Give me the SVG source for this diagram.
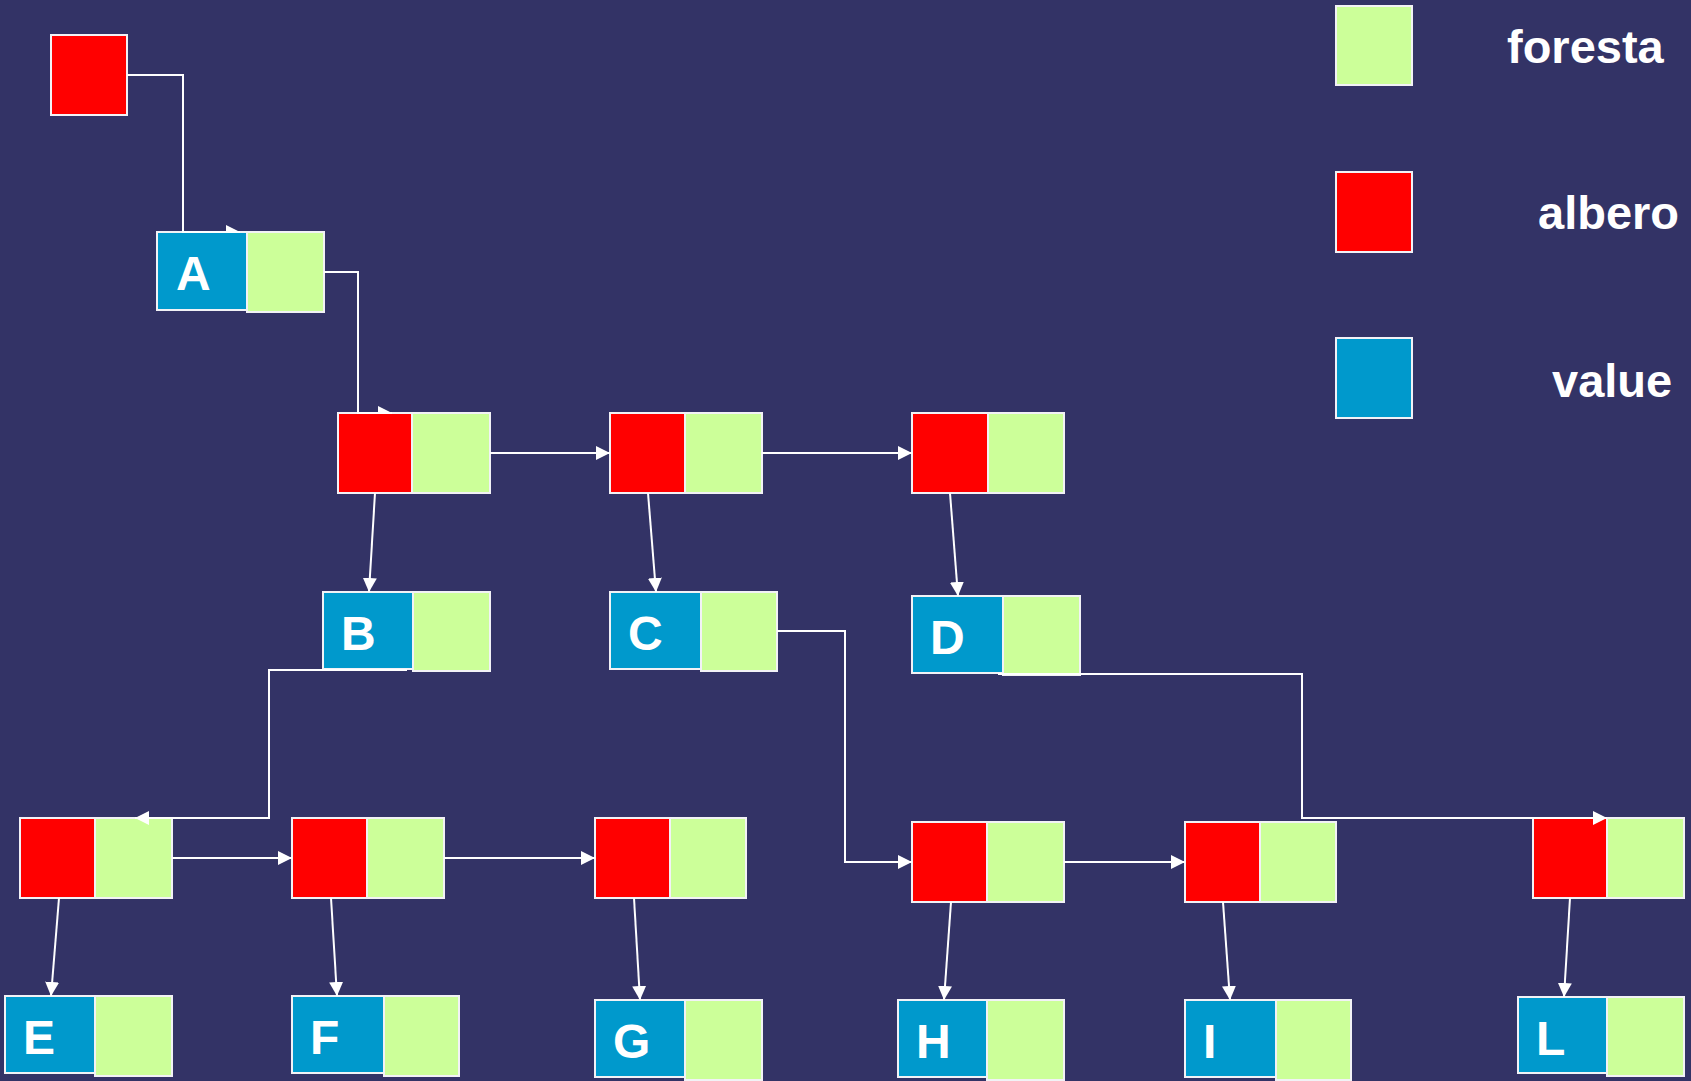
<svg xmlns="http://www.w3.org/2000/svg" width="1691" height="1081" viewBox="0 0 1691 1081">
  <style>
    .tree { fill: #FF0000; stroke: #F2F2F6; stroke-width: 2; }
    .forest { fill: #CCFF99; stroke: #F2F2F6; stroke-width: 2; }
    .value { fill: #0099CC; stroke: #F2F2F6; stroke-width: 2; }
    .lbl { font-family: "Liberation Sans", Arial, sans-serif; font-weight: bold; font-size: 48px; fill: #FFFFFF; }
    .legend { font-family: "Liberation Sans", Arial, sans-serif; font-weight: bold; font-size: 47px; fill: #FFFFFF; }
    .link { fill: none; stroke: #FFFFFF; stroke-width: 2; marker-end: url(#arrow); }
    .link-half { fill: none; stroke: #FFFFFF; stroke-width: 2; marker-end: url(#arrow-half); }
  </style>
  <defs>
    <marker id="arrow" viewBox="0 0 14 14" refX="14" refY="7" markerWidth="14" markerHeight="14" markerUnits="userSpaceOnUse" orient="auto">
      <path d="M0,0 L14,7 L0,14 z" fill="#FFFFFF"/>
    </marker>
    <!-- arrowhead whose lower half sits under the target box -->
    <marker id="arrow-half" viewBox="0 0 14 14" refX="14" refY="7" markerWidth="14" markerHeight="14" markerUnits="userSpaceOnUse" orient="auto">
      <path d="M0,0 L14,7 L0,7 z" fill="#FFFFFF"/>
    </marker>
  </defs>

  <rect x="0" y="0" width="1691" height="1081" fill="#333366"/>

  <!-- legend -->
  <g id="legend">
    <rect class="forest" x="1336" y="6" width="76" height="79"/>
    <text class="legend" x="1507" y="63">foresta</text>
    <rect class="tree" x="1336" y="172" width="76" height="80"/>
    <text class="legend" x="1538" y="229">albero</text>
    <rect class="value" x="1336" y="338" width="76" height="80"/>
    <text class="legend" x="1552" y="397">value</text>
  </g>

  <!-- nodes -->
  <g id="root"><rect class="tree" x="51" y="35" width="76" height="80"/></g>

  <g id="nA">
    <rect class="value" x="157" y="232" width="90" height="78"/>
    <rect class="forest" x="247" y="232" width="77" height="80"/>
    <text class="lbl" x="176" y="290">A</text>
  </g>

  <g id="t1"><rect class="tree" x="338" y="413" width="74" height="80"/><rect class="forest" x="412" y="413" width="78" height="80"/></g>
  <g id="t2"><rect class="tree" x="610" y="413" width="75" height="80"/><rect class="forest" x="685" y="413" width="77" height="80"/></g>
  <g id="t3"><rect class="tree" x="912" y="413" width="76" height="80"/><rect class="forest" x="988" y="413" width="76" height="80"/></g>

  <g id="nB">
    <rect class="value" x="323" y="592" width="90" height="77"/>
    <rect class="forest" x="413" y="592" width="77" height="79"/>
    <text class="lbl" x="341" y="650">B</text>
  </g>
  <g id="nC">
    <rect class="value" x="610" y="592" width="91" height="77"/>
    <rect class="forest" x="701" y="592" width="76" height="79"/>
    <text class="lbl" x="628" y="650">C</text>
  </g>
  <g id="nD">
    <rect class="value" x="912" y="596" width="91" height="77"/>
    <rect class="forest" x="1003" y="596" width="77" height="79"/>
    <text class="lbl" x="930" y="654">D</text>
  </g>

  <g id="t4"><rect class="tree" x="20" y="818" width="75" height="80"/><rect class="forest" x="95" y="818" width="77" height="80"/></g>
  <g id="t5"><rect class="tree" x="292" y="818" width="75" height="80"/><rect class="forest" x="367" y="818" width="77" height="80"/></g>
  <g id="t6"><rect class="tree" x="595" y="818" width="75" height="80"/><rect class="forest" x="670" y="818" width="76" height="80"/></g>
  <g id="t7"><rect class="tree" x="912" y="822" width="75" height="80"/><rect class="forest" x="987" y="822" width="77" height="80"/></g>
  <g id="t8"><rect class="tree" x="1185" y="822" width="75" height="80"/><rect class="forest" x="1260" y="822" width="76" height="80"/></g>
  <g id="t9"><rect class="tree" x="1533" y="818" width="74" height="80"/><rect class="forest" x="1607" y="818" width="77" height="80"/></g>

  <g id="nE">
    <rect class="value" x="5" y="996" width="90" height="77"/>
    <rect class="forest" x="95" y="996" width="77" height="80"/>
    <text class="lbl" x="23" y="1054">E</text>
  </g>
  <g id="nF">
    <rect class="value" x="292" y="996" width="92" height="77"/>
    <rect class="forest" x="384" y="996" width="75" height="80"/>
    <text class="lbl" x="310" y="1054">F</text>
  </g>
  <g id="nG">
    <rect class="value" x="595" y="1000" width="90" height="77"/>
    <rect class="forest" x="685" y="1000" width="77" height="80"/>
    <text class="lbl" x="613" y="1058">G</text>
  </g>
  <g id="nH">
    <rect class="value" x="898" y="1000" width="89" height="77"/>
    <rect class="forest" x="987" y="1000" width="77" height="80"/>
    <text class="lbl" x="916" y="1058">H</text>
  </g>
  <g id="nI">
    <rect class="value" x="1185" y="1000" width="91" height="77"/>
    <rect class="forest" x="1276" y="1000" width="75" height="80"/>
    <text class="lbl" x="1203" y="1058">I</text>
  </g>
  <g id="nL">
    <rect class="value" x="1518" y="997" width="89" height="76"/>
    <rect class="forest" x="1607" y="997" width="77" height="79"/>
    <text class="lbl" x="1536" y="1055">L</text>
  </g>

  <!-- connectors -->
  <g id="connectors">
    <path class="link-half" d="M127,75 H183 V232 H240"/>
    <path class="link-half" d="M324,272 H358 V413 H392"/>
    <path class="link" d="M490,453 H610"/>
    <path class="link" d="M762,453 H912"/>
    <path class="link" d="M375,493 L369,592"/>
    <path class="link" d="M648,493 L656,592"/>
    <path class="link" d="M950,493 L958,596"/>
    <path class="link" d="M407,670 H269 V818 H135"/>
    <path class="link" d="M777,631 H845 V862 H912"/>
    <path class="link" d="M998,674 H1302 V818 H1607"/>
    <path class="link" d="M172,858 H292"/>
    <path class="link" d="M444,858 H595"/>
    <path class="link" d="M1064,862 H1185"/>
    <path class="link" d="M59,898 L51,996"/>
    <path class="link" d="M331,898 L337,996"/>
    <path class="link" d="M634,898 L640,1000"/>
    <path class="link" d="M951,902 L944,1000"/>
    <path class="link" d="M1223,902 L1230,1000"/>
    <path class="link" d="M1570,898 L1564,997"/>
  </g>
</svg>
